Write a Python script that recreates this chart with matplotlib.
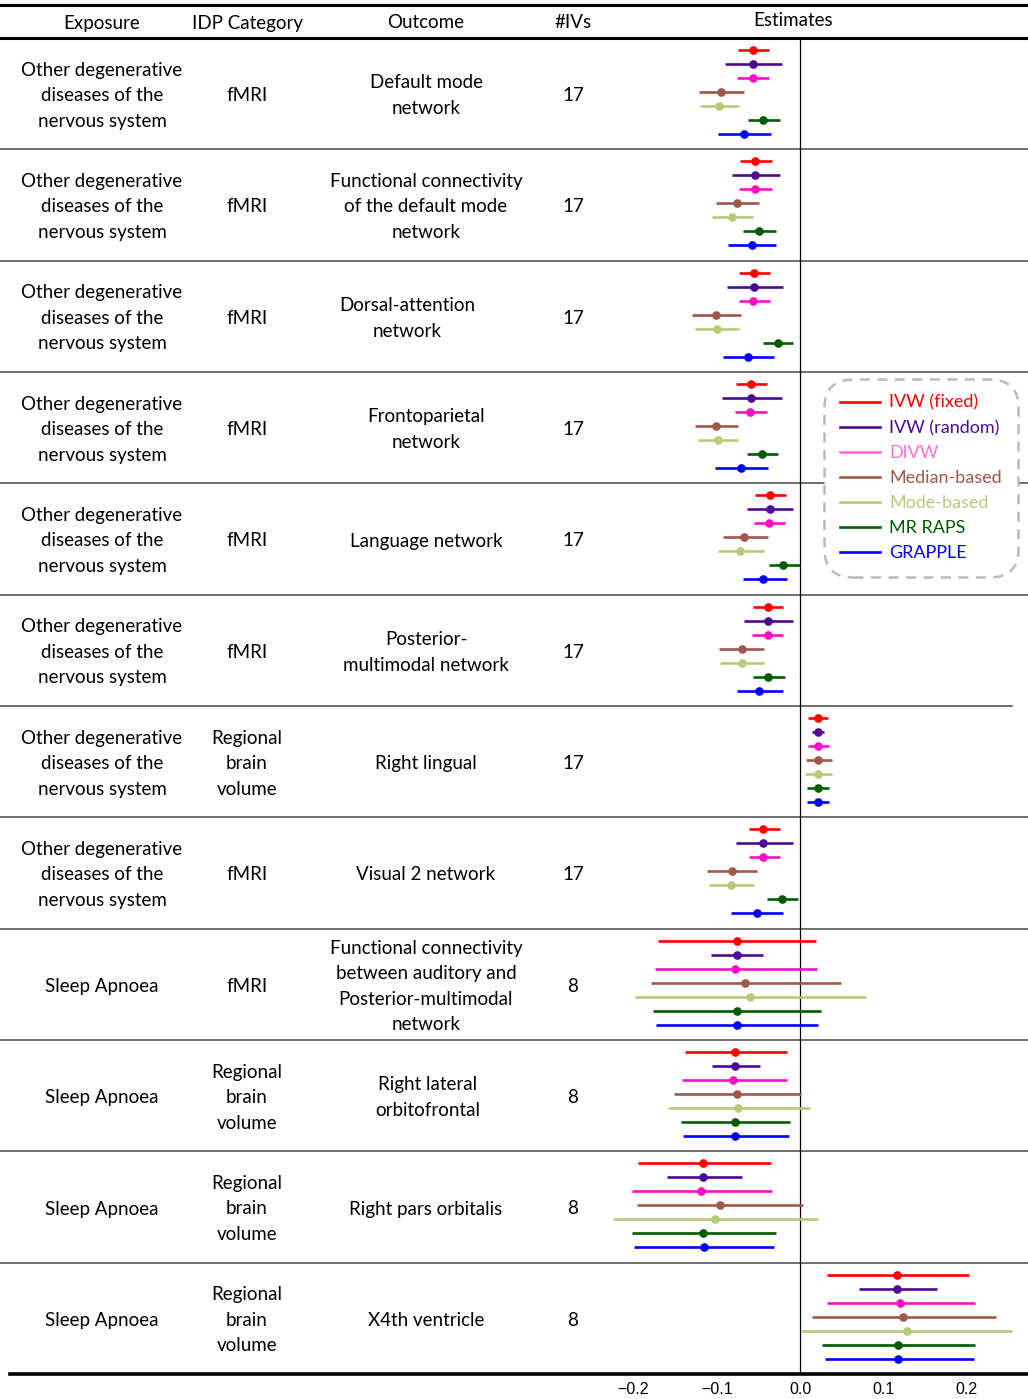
import numpy as np
import matplotlib
matplotlib.use('Agg')
import matplotlib.pyplot as plt
from matplotlib.lines import Line2D

plt.rcParams['font.family'] = ['Lato', 'DejaVu Sans']

# ---- data ----
methods = ['IVW (fixed)', 'IVW (random)', 'DIVW', 'Median-based',
           'Mode-based', 'MR RAPS', 'GRAPPLE']
method_colors = ['#FF0000', '#4B0A96', '#FF10C8', '#A0584A',
                 '#B6CB78', '#005C00', '#0000FF']
legend_colors = ['#FF0000', '#4B0A96', '#FF70D0', '#A0584A',
                 '#B6CB78', '#005C00', '#0000FF']

exposure = ['Other degenerative\ndiseases of the\nnervous system'] * 8 + ['Sleep Apnoea'] * 4
idp = ['fMRI'] * 6 + ['Regional\nbrain\nvolume', 'fMRI', 'fMRI'] + ['Regional\nbrain\nvolume'] * 3
outcome = ['Default mode\nnetwork',
           'Functional connectivity\nof the default mode\nnetwork',
           'Dorsal-attention\nnetwork',
           'Frontoparietal\nnetwork',
           'Language network',
           'Posterior-\nmultimodal network',
           'Right lingual',
           'Visual 2 network',
           'Functional connectivity\nbetween auditory and\nPosterior-multimodal\nnetwork',
           'Right lateral\norbitofrontal',
           'Right pars orbitalis',
           'X4th ventricle']
n_ivs = [17, 17, 17, 17, 17, 17, 17, 17, 8, 8, 8, 8]

# estimate, lower, upper for each method (rows = outcomes)
est = [
    [-0.057, -0.057, -0.057, -0.095, -0.097, -0.044, -0.067],
    [-0.054, -0.054, -0.054, -0.076, -0.082, -0.049, -0.058],
    [-0.055, -0.055, -0.056, -0.101, -0.100, -0.027, -0.062],
    [-0.059, -0.059, -0.060, -0.101, -0.099, -0.046, -0.071],
    [-0.036, -0.036, -0.037, -0.067, -0.072, -0.020, -0.044],
    [-0.039, -0.039, -0.039, -0.070, -0.070, -0.038, -0.049],
    [0.022, 0.022, 0.022, 0.022, 0.022, 0.022, 0.022],
    [-0.044, -0.044, -0.044, -0.082, -0.083, -0.022, -0.052],
    [-0.076, -0.076, -0.078, -0.066, -0.060, -0.076, -0.076],
    [-0.078, -0.078, -0.080, -0.076, -0.074, -0.078, -0.078],
    [-0.116, -0.116, -0.119, -0.096, -0.102, -0.116, -0.115],
    [0.117, 0.117, 0.120, 0.124, 0.128, 0.118, 0.118],
]
lower = [
    [-0.074, -0.090, -0.076, -0.121, -0.120, -0.062, -0.098],
    [-0.072, -0.082, -0.073, -0.101, -0.106, -0.068, -0.086],
    [-0.073, -0.088, -0.073, -0.130, -0.126, -0.045, -0.093],
    [-0.077, -0.094, -0.078, -0.126, -0.123, -0.064, -0.102],
    [-0.054, -0.064, -0.055, -0.093, -0.098, -0.037, -0.069],
    [-0.056, -0.067, -0.058, -0.097, -0.096, -0.056, -0.076],
    [0.010, 0.014, 0.010, 0.007, 0.006, 0.008, 0.008],
    [-0.061, -0.077, -0.061, -0.112, -0.109, -0.040, -0.083],
    [-0.170, -0.107, -0.174, -0.179, -0.198, -0.176, -0.173],
    [-0.138, -0.106, -0.142, -0.151, -0.158, -0.143, -0.140],
    [-0.195, -0.160, -0.202, -0.196, -0.224, -0.202, -0.199],
    [0.032, 0.071, 0.032, 0.015, 0.001, 0.027, 0.030],
]
upper = [
    [-0.037, -0.022, -0.037, -0.067, -0.073, -0.024, -0.035],
    [-0.034, -0.024, -0.034, -0.049, -0.057, -0.029, -0.029],
    [-0.036, -0.021, -0.036, -0.071, -0.073, -0.008, -0.031],
    [-0.040, -0.022, -0.040, -0.075, -0.074, -0.026, -0.038],
    [-0.017, -0.008, -0.018, -0.039, -0.043, 0.000, -0.016],
    [-0.020, -0.009, -0.020, -0.043, -0.043, -0.018, -0.021],
    [0.034, 0.029, 0.035, 0.038, 0.039, 0.035, 0.035],
    [-0.024, -0.009, -0.024, -0.052, -0.055, -0.003, -0.020],
    [0.019, -0.044, 0.020, 0.049, 0.079, 0.025, 0.022],
    [-0.016, -0.048, -0.016, 0.001, 0.012, -0.012, -0.013],
    [-0.035, -0.070, -0.034, 0.004, 0.022, -0.029, -0.031],
    [0.203, 0.164, 0.210, 0.235, 0.255, 0.210, 0.209],
]
xticks = [-0.2, -0.1, 0.0, 0.1, 0.2]

# ---- layout (pixels) ----
W, H = 1028, 1399
top_line, head_line, bottom_line = 5, 38, 1374
n_rows = len(outcome)
row_h = (bottom_line - head_line) / n_rows
col_x = {'exp': 102, 'idp': 247, 'out': 426, 'iv': 573, 'est': 793}
out_x = [426, 426, 407, 426, 426, 426, 426, 426, 426, 428, 426, 426]
fs = 13.5
lsp = 1.6

fig = plt.figure(figsize=(W / 100, H / 100), dpi=100)
tab = fig.add_axes([0, 0, 1, 1])
tab.set_xlim(0, W)
tab.set_ylim(H, 0)
tab.axis('off')

# header
for key, lab in [('exp', 'Exposure'), ('idp', 'IDP Category'),
                 ('out', 'Outcome'), ('iv', '#IVs')]:
    tab.text(col_x[key], 23, lab, ha='center', va='center', fontsize=fs)
tab.text(col_x['est'], 20, 'Estimates', ha='center', va='center', fontsize=fs)
tab.plot([0, W], [top_line, top_line], color='black', lw=2.2)
tab.plot([0, W], [head_line, head_line], color='black', lw=2.2)
tab.plot([10, W], [bottom_line, bottom_line], color='black', lw=2.6)

for i in range(n_rows):
    yc = head_line + (i + 0.5) * row_h + 2
    tab.text(col_x['exp'], yc, exposure[i], ha='center', va='center',
             fontsize=fs, linespacing=lsp)
    tab.text(col_x['idp'], yc, idp[i], ha='center', va='center',
             fontsize=fs, linespacing=lsp)
    tab.text(out_x[i], yc, outcome[i], ha='center', va='center',
             fontsize=fs, linespacing=lsp)
    tab.text(col_x['iv'], yc, str(n_ivs[i]), ha='center', va='center', fontsize=fs)
    if i > 0:
        y = head_line + i * row_h
        x_end = 1012 if i == 6 else W
        tab.plot([0, x_end], [y, y], color='#555555', lw=1.2)

# ---- forest panel ----
ax = fig.add_axes([600 / W, (H - bottom_line) / H, 428 / W,
                   (bottom_line - head_line) / H])
ax.set_facecolor('none')
ax.set_xlim((600 - 800) / 833, (1028 - 800) / 833)
ax.set_ylim(bottom_line - head_line, 0)
for s in ax.spines.values():
    s.set_visible(False)
ax.set_yticks([])
ax.set_xticks(xticks)
ax.set_xticklabels([f'{t:.1f}'.replace('-', '\u2212') for t in xticks],
                   fontsize=11.5, family=['Liberation Sans Narrow', 'Liberation Sans'])
ax.tick_params(axis='x', length=0, pad=6)
ax.axvline(0, color='black', lw=0.9, zorder=1)

est_a, lo_a, hi_a = np.array(est), np.array(lower), np.array(upper)
for i in range(n_rows):
    for j in range(len(methods)):
        y = i * row_h + 12 + 14 * j
        ax.plot([lo_a[i, j], hi_a[i, j]], [y, y], color=method_colors[j],
                lw=1.9, solid_capstyle='butt', zorder=2)
        ax.plot(est_a[i, j], y, 'o', color=method_colors[j], ms=5.2, zorder=3)

handles = [Line2D([], [], color=c, lw=1.9) for c in legend_colors]
leg = ax.legend(handles, methods, loc='center',
                bbox_to_anchor=((818 + 1018) / 2 / W + 0.003, 1 - (384 + 572) / 2 / H),
                bbox_transform=fig.transFigure, fontsize=13,
                labelcolor=legend_colors, handlelength=2.2, handletextpad=0.5,
                labelspacing=0.5, borderpad=0.6, framealpha=1,
                fancybox=True)
frame = leg.get_frame()
frame.set_linestyle((0, (4, 3)))
frame.set_edgecolor('#BBBBBB')
frame.set_linewidth(1.8)
frame.set_boxstyle('round,pad=0.3,rounding_size=1.6')
leg.set_zorder(5)

fig.savefig('out.png', dpi=100)
